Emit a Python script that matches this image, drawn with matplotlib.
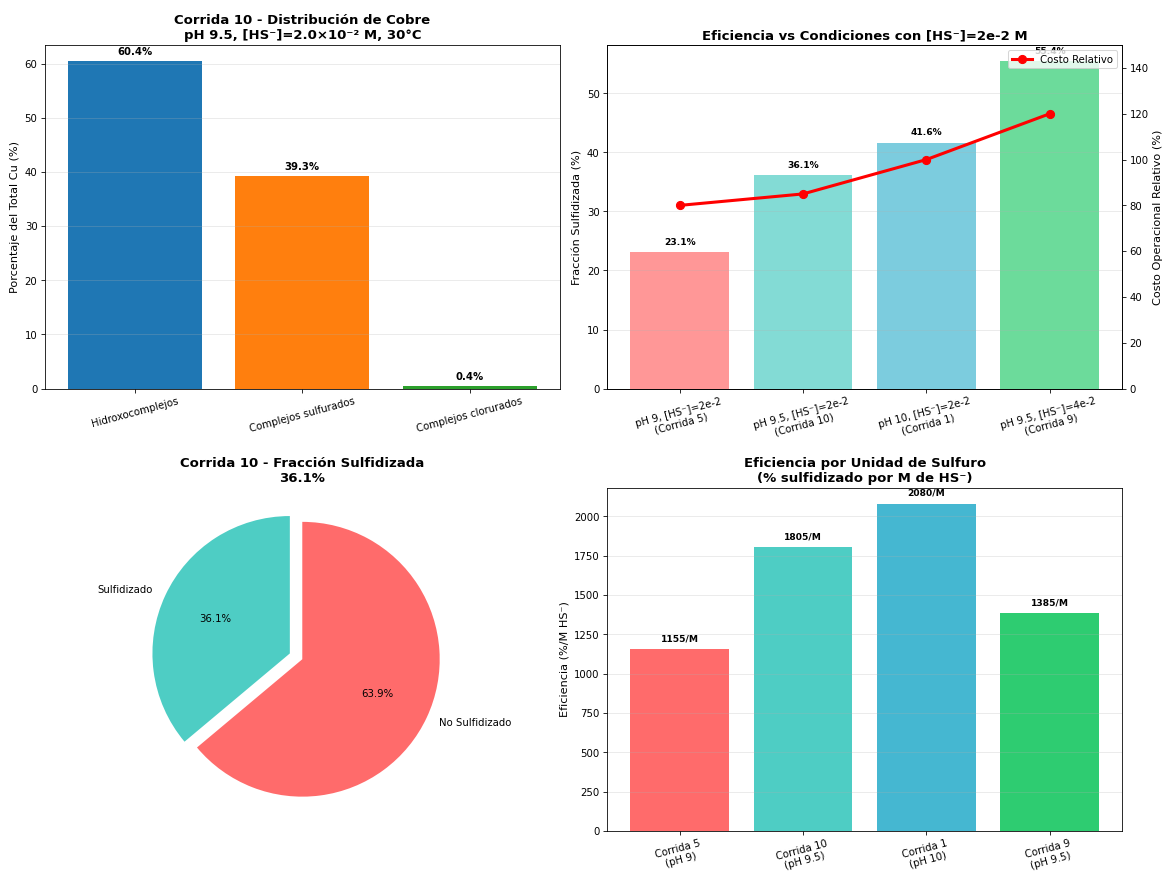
import numpy as np
import matplotlib.pyplot as plt

# Distribución de cobre, corrida 10
especies = ['Hidroxocomplejos', 'Complejos sulfurados', 'Complejos clorurados']
porcentajes = [60.4, 39.3, 0.4]
colores_especies = ['#1f77b4', '#ff7f0e', '#2ca02c']

# Comparación entre corridas
condiciones = ['pH 9, [HS⁻]=2e-2\n(Corrida 5)', 'pH 9.5, [HS⁻]=2e-2\n(Corrida 10)',
               'pH 10, [HS⁻]=2e-2\n(Corrida 1)', 'pH 9.5, [HS⁻]=4e-2\n(Corrida 9)']
fraccion_sulf = [23.1, 36.1, 41.6, 55.4]
costo_relativo = [80, 85, 100, 120]
colores_corridas = ['#FF6B6B', '#4ECDC4', '#45B7D1', '#2ECC71']

# Fracción sulfidizada corrida 10
pie_labels = ['Sulfidizado', 'No Sulfidizado']
pie_valores = [36.1, 63.9]

# Eficiencia por unidad de sulfuro
corridas = ['Corrida 5\n(pH 9)', 'Corrida 10\n(pH 9.5)', 'Corrida 1\n(pH 10)', 'Corrida 9\n(pH 9.5)']
eficiencia = [1155, 1805, 2080, 1385]

fig, axes = plt.subplots(2, 2, figsize=(16, 11.9), dpi=73.3)

# --- panel 1
ax = axes[0, 0]
bars = ax.bar(especies, porcentajes, color=colores_especies)
for b, v in zip(bars, porcentajes):
    ax.text(b.get_x() + b.get_width() / 2, v + 0.8, f'{v:.1f}%',
            ha='center', va='bottom', fontweight='bold', fontsize=10)
ax.set_ylabel('Porcentaje del Total Cu (%)', fontsize=11)
ax.set_title('Corrida 10 - Distribución de Cobre\npH 9.5, [HS⁻]=2.0×10⁻² M, 30°C',
             fontsize=13, fontweight='bold')
ax.set_ylim(0, max(porcentajes) * 1.05)
ax.tick_params(axis='x', rotation=15)
ax.grid(axis='y', alpha=0.3)

# --- panel 2
ax = axes[0, 1]
x = np.arange(len(condiciones))
bars = ax.bar(x, fraccion_sulf, color=colores_corridas, alpha=0.7)
for b, v in zip(bars, fraccion_sulf):
    ax.text(b.get_x() + b.get_width() / 2, v + 1, f'{v:.1f}%',
            ha='center', va='bottom', fontweight='bold', fontsize=9)
ax.set_xticks(x)
ax.set_xticklabels(condiciones, rotation=15)
ax.set_ylabel('Fracción Sulfidizada (%)', fontsize=11)
ax.set_ylim(0, max(fraccion_sulf) * 1.05)
ax.set_title('Eficiencia vs Condiciones con [HS⁻]=2e-2 M', fontsize=13, fontweight='bold')
ax.grid(axis='y', alpha=0.3)
ax2 = ax.twinx()
ax2.plot(x, costo_relativo, 'ro-', linewidth=3, markersize=8, label='Costo Relativo')
ax2.set_ylabel('Costo Operacional Relativo (%)', fontsize=11)
ax2.set_ylim(0, 150)
ax2.legend(loc='upper right')

# --- panel 3
ax = axes[1, 0]
ax.pie(pie_valores, labels=pie_labels, colors=['#4ECDC4', '#FF6B6B'],
       autopct='%1.1f%%', startangle=90, explode=(0.1, 0))
ax.set_title(f'Corrida 10 - Fracción Sulfidizada\n{pie_valores[0]:.1f}%',
             fontsize=13, fontweight='bold')

# --- panel 4
ax = axes[1, 1]
bars = ax.bar(corridas, eficiencia, color=colores_corridas)
for b, v in zip(bars, eficiencia):
    ax.text(b.get_x() + b.get_width() / 2, v + 40, f'{v:.0f}/M',
            ha='center', va='bottom', fontweight='bold', fontsize=9)
ax.set_ylabel('Eficiencia (%/M HS⁻)', fontsize=11)
ax.set_title('Eficiencia por Unidad de Sulfuro\n(% sulfidizado por M de HS⁻)',
             fontsize=13, fontweight='bold')
ax.set_ylim(0, max(eficiencia) * 1.05)
ax.tick_params(axis='x', rotation=15)
ax.grid(axis='y', alpha=0.3)

plt.subplots_adjust(left=0.038, right=0.957, top=0.948, bottom=0.047,
                    wspace=0.091, hspace=0.288)
plt.savefig('out.png', dpi=73.3)
